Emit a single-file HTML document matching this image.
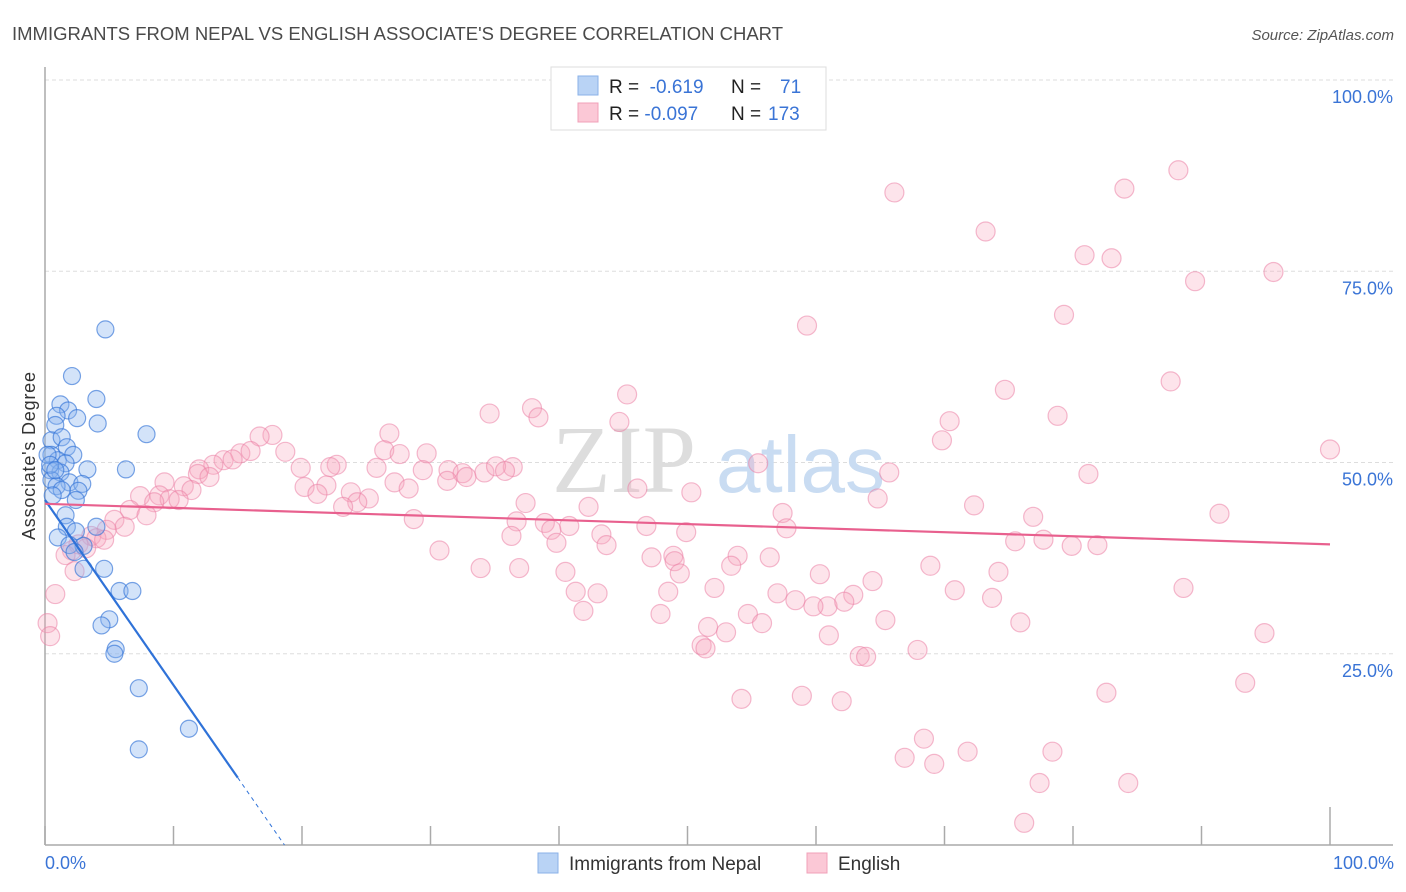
<!DOCTYPE html>
<html><head><meta charset="utf-8"><style>
body{margin:0;background:#fff;font-family:"Liberation Sans",sans-serif;}
svg{display:block}
</style></head><body>
<svg id="chart" width="1406" height="892" xmlns="http://www.w3.org/2000/svg">
<text x="12" y="40" font-size="18" fill="#4a4a4a" textLength="771" lengthAdjust="spacingAndGlyphs">IMMIGRANTS FROM NEPAL VS ENGLISH ASSOCIATE'S DEGREE CORRELATION CHART</text>
<text x="1394" y="40" font-size="15" fill="#555" font-style="italic" text-anchor="end">Source: ZipAtlas.com</text>
<g id="grid"></g>
<g>
<text x="552" y="492" font-size="96" font-family="Liberation Serif" fill="#ddd">ZIP</text>
<text x="716" y="492" font-size="80" fill="#c9dcf2">atlas</text>
</g>
<g id="axes"></g>
<g id="pink"></g>
<g id="blue"></g>
<g id="lines"></g>
<text x="35" y="456" font-size="18" fill="#333" text-anchor="middle" transform="rotate(-90 35 456)" textLength="168">Associate's Degree</text>
<text x="45" y="869" font-size="18" fill="#3a74d6">0.0%</text>
<text x="1394" y="869" font-size="18" fill="#3a74d6" text-anchor="end">100.0%</text>
<g>
<rect x="551" y="67" width="275" height="63" fill="#fff" stroke="#ddd"/>
<rect x="578" y="76" width="20" height="19" fill="#b9d3f5" stroke="#8ab1e8"/>
<rect x="578" y="103" width="20" height="19" fill="#fbc8d6" stroke="#f0a0b8"/>
<text x="609" y="93" font-size="19" fill="#222">R = <tspan fill="#3a74d6">&#160;-0.619</tspan><tspan x="731">N = </tspan><tspan x="780" fill="#3a74d6">71</tspan></text>
<text x="609" y="120" font-size="19" fill="#222">R = <tspan fill="#3a74d6">-0.097</tspan><tspan x="731">N = </tspan><tspan x="768" fill="#3a74d6">173</tspan></text>
</g>
<g>
<rect x="538" y="853" width="20" height="20" fill="#b9d3f5" stroke="#8ab1e8"/>
<text x="569" y="870" font-size="19" fill="#333">Immigrants from Nepal</text>
<rect x="807" y="853" width="20" height="20" fill="#fbc8d6" stroke="#f0a0b8"/>
<text x="838" y="870" font-size="19" fill="#333">English</text>
</g>
</svg>
<script>
const yTicks=[25,50,75,100];
const yTickLabels=["25.0%","50.0%","75.0%","100.0%"];
const xTicks=[0,10,20,30,40,50,60,70,80,90,100];
const nepalX=[4.7,2.1,4.0,1.2,1.8,2.5,0.9,4.1,7.9,0.8,0.5,1.3,1.7,0.5,1.0,2.2,1.6,3.3,6.3,0.4,1.2,0.5,1.9,2.9,0.9,2.6,2.4,1.6,1.7,2.4,4.0,1.0,1.9,3.0,2.3,3.0,4.6,5.8,6.8,5.0,4.4,5.5,5.4,7.3,11.2,7.3,0.2,0.4,0.8,1.3,0.6];
const nepalY=[67.4,61.3,58.3,57.6,56.8,55.8,56.1,55.1,53.7,54.9,52.9,53.3,52.0,51.0,50.3,51.0,49.9,49.1,49.1,49.0,48.7,47.7,47.4,47.2,46.9,46.3,45.1,43.1,41.6,41.0,41.6,40.2,39.2,39.1,38.3,36.1,36.1,33.2,33.2,29.5,28.7,25.6,25.0,20.5,15.2,12.5,51.0,49.7,49.0,46.4,45.7];
const englishX=[88.2,66.1,84.0,73.2,80.9,83.0,95.6,89.5,59.3,79.3,87.6,74.7,45.3,34.6,37.9,38.4,70.4,78.8,100,44.7,26.8,17.7,16.7,26.4,69.8,55.5,29.7,27.6,36.4,18.7,15.2,16.0,13.9,14.6,13.1,12.0,11.9,12.8,22.7,25.8,19.9,22.2,31.4,29.4,32.5,32.8,34.2,35.1,35.8,65.7,81.2,31.3,27.2,28.3,46.1,20.2,21.9,21.2,23.8,25.2,24.3,23.2,9.3,10.8,11.4,8.9,7.4,9.7,10.4,8.5,6.6,7.9,5.4,6.2,4.8,3.6,4.0,4.6,2.6,3.2,2.1,1.6,2.3,50.3,42.3,72.3,91.4,64.8,28.7,37.4,57.4,76.9,38.9,40.8,57.7,46.8,36.7,49.9,43.3,39.4,43.7,39.8,36.3,75.5,77.7,30.7,53.9,47.2,48.9,56.4,53.4,49.0,79.9,81.9,33.9,36.9,40.5,49.4,60.3,68.9,74.2,64.4,52.1,43.0,41.3,48.5,57.0,58.4,60.9,62.9,62.2,70.8,73.7,88.6,41.9,47.9,54.7,59.8,55.8,65.4,75.9,51.6,53.0,61.0,51.1,51.4,67.9,63.4,63.9,94.9,54.2,58.9,62.0,82.6,93.4,68.4,66.9,69.2,71.8,78.4,77.4,84.3,76.2,0.8,0.2,0.4];
const englishY=[88.2,85.3,85.8,80.2,77.1,76.7,74.9,73.7,67.9,69.3,60.6,59.5,58.9,56.4,57.1,55.9,55.4,56.1,51.7,55.3,53.8,53.6,53.4,51.6,52.9,49.9,51.2,51.1,49.4,51.4,51.2,51.5,50.3,50.4,49.7,49.1,48.5,48.1,49.7,49.3,49.3,49.4,49.0,49.0,48.6,48.1,48.7,49.5,48.9,48.7,48.5,47.6,47.4,46.6,46.6,46.8,47.0,45.9,46.1,45.3,44.8,44.2,47.4,46.9,46.4,45.7,45.6,45.2,45.1,44.8,43.8,43.1,42.5,41.6,41.2,40.4,40.1,39.9,39.3,38.8,38.5,37.9,35.8,46.1,44.2,44.4,43.3,45.3,42.6,44.7,43.4,42.9,42.1,41.7,41.4,41.7,42.3,40.9,40.6,41.2,39.2,39.5,40.4,39.7,39.9,38.5,37.8,37.6,37.8,37.6,36.5,37.1,39.1,39.2,36.2,36.2,35.7,35.5,35.4,36.5,35.7,34.5,33.6,32.9,33.1,33.1,32.9,32.0,31.2,32.7,31.8,33.3,32.3,33.6,30.6,30.2,30.2,31.2,29.0,29.4,29.1,28.5,27.8,27.4,26.1,25.7,25.5,24.7,24.6,27.7,19.1,19.5,18.8,19.9,21.2,13.9,11.4,10.6,12.2,12.2,8.1,8.1,2.9,32.8,29.0,27.3];
const nepalTrend=[45.1,-2.42];
const englishTrend=[44.6,-0.053];

const NS="http://www.w3.org/2000/svg";
const X0=45,X1=1330,Y0=845,Y100=80;
function sx(v){return X0+(X1-X0)*v/100;}
function sy(v){return Y0-(Y0-Y100)*v/100;}
function mk(tag,attrs,parent){const e=document.createElementNS(NS,tag);for(const k in attrs)e.setAttribute(k,attrs[k]);parent.appendChild(e);return e;}
const grid=document.getElementById('grid'),axes=document.getElementById('axes');
yTicks.forEach((t,i)=>{
  const l=mk('line',{x1:X0,x2:1393,y1:sy(t),y2:sy(t),stroke:'#ddd','stroke-dasharray':'4,3'},grid);
  
  
  const tx=mk('text',{x:1393,y:sy(t)+23,'font-size':18,fill:'#3a74d6','text-anchor':'end'},axes);
  tx.textContent=yTickLabels[i];
  
  
});
const ya=mk('line',{x1:X0,x2:X0,y1:67,y2:Y0,stroke:'#aaa','stroke-width':1.5},axes);


const xa=mk('line',{x1:X0,x2:1393,y1:Y0,y2:Y0,stroke:'#aaa','stroke-width':1.5},axes);


xTicks.forEach((t,i)=>{
  const tk=mk('line',{x1:sx(t),x2:sx(t),y1:Y0,y2:Y0-(i==xTicks.length-1?38:19),stroke:'#aaa','stroke-width':1.5},axes);
  
  
});
const pink=document.getElementById('pink');
englishX.forEach((v,i)=>{
  const c=mk('circle',{cx:sx(v),cy:sy(englishY[i]),r:9.5,fill:'rgba(248,165,190,0.3)',stroke:'rgba(235,130,165,0.55)','stroke-width':1.2},pink);
  
  
});
const blue=document.getElementById('blue');
nepalX.forEach((v,i)=>{
  const c=mk('circle',{cx:sx(v),cy:sy(nepalY[i]),r:8.5,fill:'rgba(140,182,238,0.38)',stroke:'rgba(50,115,215,0.65)','stroke-width':1.2},blue);
  
  
});
const lines=document.getElementById('lines');
const ne=15,nz=-nepalTrend[0]/nepalTrend[1];
const bl=mk('line',{x1:sx(0),y1:sy(nepalTrend[0]),x2:sx(ne),y2:sy(nepalTrend[0]+nepalTrend[1]*ne),stroke:'#2f72d8','stroke-width':2.2},lines);


const bd=mk('line',{x1:sx(ne),y1:sy(nepalTrend[0]+nepalTrend[1]*ne),x2:sx(nz),y2:sy(0),stroke:'#2f72d8','stroke-width':1,'stroke-dasharray':'4,4'},lines);


const pl=mk('line',{x1:sx(0),y1:sy(englishTrend[0]),x2:sx(100),y2:sy(englishTrend[0]+englishTrend[1]*100),stroke:'#e8608e','stroke-width':2.2},lines);


</script>
</body></html>
